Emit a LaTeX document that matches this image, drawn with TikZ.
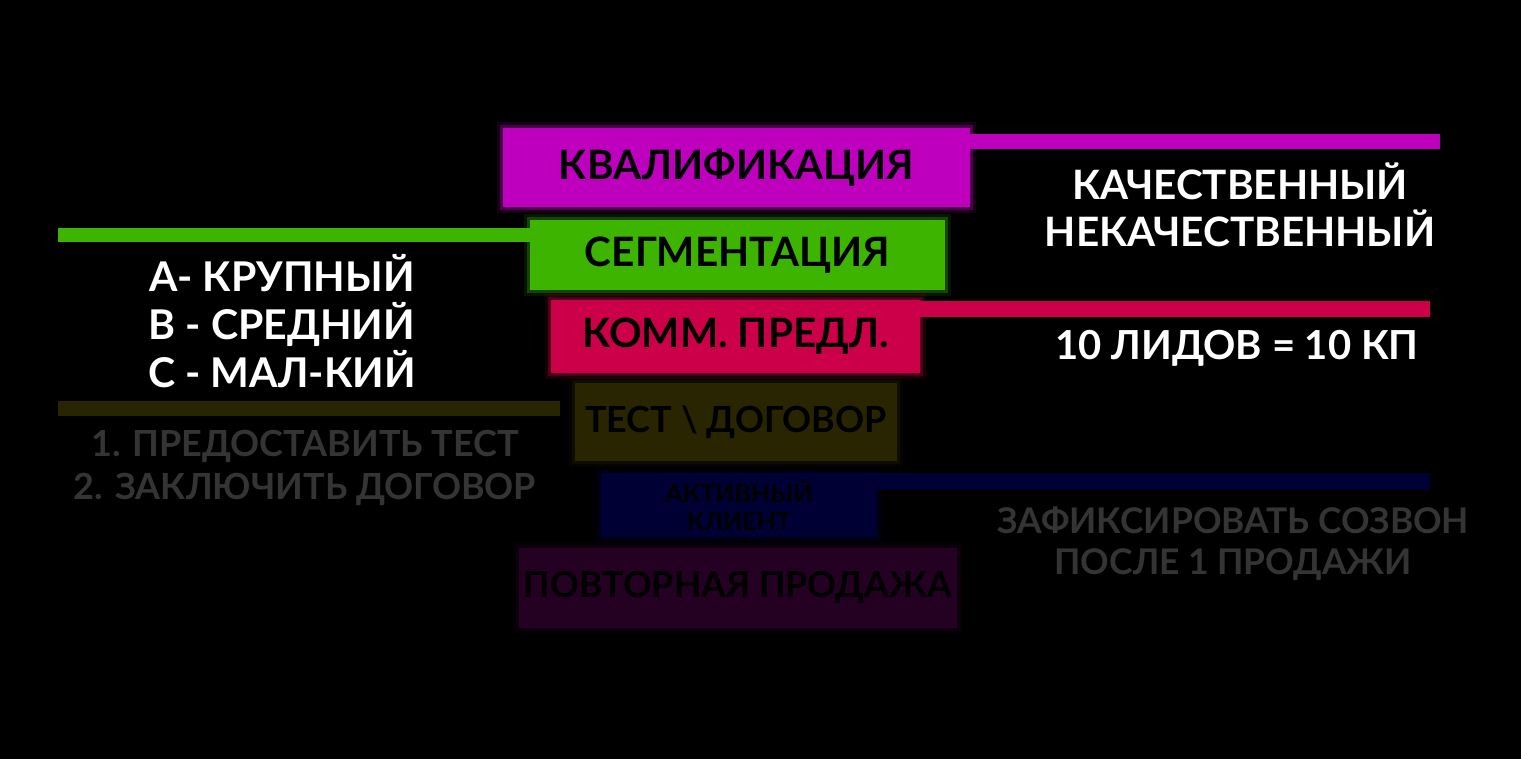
\documentclass[tikz,border=0pt]{standalone}
\usepackage{fontspec}
\setmainfont{Lato}
\usepackage{tikz}
\usetikzlibrary{positioning,calc}
\definecolor{kvalcol}{RGB}{190,0,190}
\definecolor{segcol}{RGB}{60,180,0}
\definecolor{kpcol}{RGB}{204,0,72}
\definecolor{testcol}{RGB}{40,37,0}
\definecolor{aktcol}{RGB}{0,0,52}
\definecolor{povtcol}{RGB}{36,0,34}
\definecolor{fadedtext}{RGB}{52,52,52}
\tikzstyle{bar} = [line width=15pt]

\begin{document}
\begin{tikzpicture}[x=1pt, y=-1pt,
	stage/.style={rectangle, fill=#1, preaction={draw=#1, line width=12pt, draw opacity=0.12}, preaction={draw=#1, line width=6pt, draw opacity=0.3}, inner sep=0pt, text=black, font=\bfseries\fontsize{40.5}{44}\selectfont, align=center},
	note/.style={text=white, font=\bfseries\fontsize{40.5}{47}\selectfont, align=center}]
	
	% BACKGROUND
	\fill[black] (0,0) rectangle (1521,759);
	
	% STAGES
	\node [stage=kvalcol, minimum width=467pt, minimum height=79pt] (kval) at (736.5,167.5) {КВАЛИФИКАЦИЯ};
	\node [stage=segcol, minimum width=415pt, minimum height=70pt] (seg) at (737.5,255) {СЕГМЕНТАЦИЯ};
	\node [stage=kpcol, minimum width=369pt, minimum height=73pt] (kp) at (735.5,336.5) {КОММ. ПРЕДЛ.};
	\node [stage=testcol, minimum width=322pt, minimum height=78pt, font=\bfseries\fontsize{36}{40}\selectfont] (test) at (736,422) {ТЕСТ \textbackslash{} ДОГОВОР};
	\node [stage=aktcol, minimum width=276pt, minimum height=64pt, font=\bfseries\fontsize{25}{28}\selectfont] (akt) at (739,505) {АКТИВНЫЙ\\КЛИЕНТ};
	\node [stage=povtcol, minimum width=438pt, minimum height=80pt, font=\bfseries\fontsize{35.7}{40}\selectfont] (povt) at (738,588) {ПОВТОРНАЯ ПРОДАЖА};
	
	% BARS
	\coordinate (kvalend) at (1440,142);
	\coordinate (segend) at (58,235);
	\coordinate (kpend) at (1430,309);
	\coordinate (testend) at (58,408);
	\coordinate (aktend) at (1430,481);
	\draw [bar, kvalcol] (kval.east |- kvalend) -- (kvalend);
	\draw [bar, segcol, line width=14pt] (seg.west |- segend) -- (segend);
	\draw [bar, kpcol, line width=16pt] (kp.east |- kpend) -- (kpend);
	\draw [bar, testcol] ($(test.west |- testend)+(-15,0)$) -- (testend);
	\draw [bar, aktcol, line width=17pt] (akt.east |- aktend) -- (aktend);
	
	% NOTES
	\node [note] (kvalnote) at (1240,205) {КАЧЕСТВЕННЫЙ\\НЕКАЧЕСТВЕННЫЙ};
	\node [note, font=\bfseries\fontsize{41}{48}\selectfont] (segnote) at (282,321) {А- КРУПНЫЙ\\В - СРЕДНИЙ\\С - МАЛ-КИЙ};
	\node [note, font=\bfseries\fontsize{40}{47}\selectfont] (kpnote) at (1237,348) {10 ЛИДОВ = 10 КП};
	\node [note, text=fadedtext, font=\bfseries\fontsize{36}{43}\selectfont] (testnote) at (305,468) {1. ПРЕДОСТАВИТЬ ТЕСТ\\2. ЗАКЛЮЧИТЬ ДОГОВОР};
	\node [note, text=fadedtext, font=\bfseries\fontsize{35.4}{41}\selectfont] (aktnote) at (1233,544) {ЗАФИКСИРОВАТЬ СОЗВОН\\ПОСЛЕ 1 ПРОДАЖИ};
	
\end{tikzpicture}
\end{document}
